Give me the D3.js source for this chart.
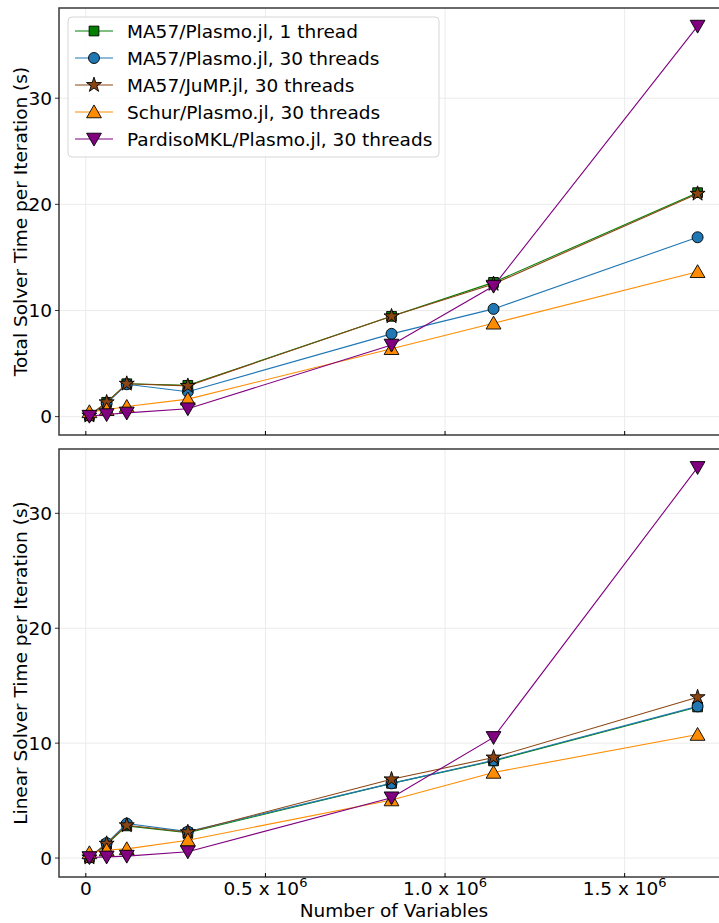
<!DOCTYPE html>
<html><head><meta charset="utf-8">
<script src="https://cdn.jsdelivr.net/npm/d3@7"></script>
<style>body{margin:0;background:#fff}svg{display:block}</style>
</head><body>
<script>
// ---- data ----
const numVariables = [10000, 58000, 114000, 284000, 851000, 1135000, 1703000];
const seriesNames = ["MA57/Plasmo.jl, 1 thread","MA57/Plasmo.jl, 30 threads","MA57/JuMP.jl, 30 threads","Schur/Plasmo.jl, 30 threads","PardisoMKL/Plasmo.jl, 30 threads"];
const totalMA57_1   = [0.1, 1.35, 3.1, 2.95, 9.45, 12.65, 21.1];
const totalMA57_30  = [0.1, 1.25, 3.05, 2.35, 7.8, 10.15, 16.9];
const totalJuMP_30  = [0.1, 1.35, 3.1, 2.9, 9.45, 12.5, 21.0];
const totalSchur_30 = [0.45, 0.65, 0.95, 1.65, 6.4, 8.8, 13.65];
const totalPardiso  = [0.05, 0.2, 0.35, 0.75, 6.75, 12.3, 36.8];
const linMA57_1   = [0.05, 1.2, 2.8, 2.2, 6.5, 8.45, 13.15];
const linMA57_30  = [0.05, 1.3, 3.0, 2.3, 6.5, 8.5, 13.2];
const linJuMP_30  = [0.05, 1.25, 2.85, 2.25, 6.85, 8.75, 14.0];
const linSchur_30 = [0.45, 0.7, 0.8, 1.55, 5.05, 7.45, 10.75];
const linPardiso  = [0.05, 0.1, 0.17, 0.55, 5.25, 10.5, 34.0];
const yTicks = [0, 10, 20, 30];
const xTicks = [0, 500000, 1000000, 1500000];
const xTickLabels = ["0", "0.5 x 10^6", "1.0 x 10^6", "1.5 x 10^6"];

const colors = ["#008000", "#1f77b4", "#8b4513", "#ff8c00", "#800080"];
const symbols = [d3.symbolSquare, d3.symbolCircle, d3.symbolStar, d3.symbolTriangle, d3.symbolTriangle];
const symSizes = [95, 95, 70, 95, 95];
const symRot = [0, 0, 0, 0, 180];
const symDy = [0, 0, 0, 1.5, -1.5];

const W = 719, H = 923;
const FS = 18.5;
const svg = d3.select("body").append("svg").attr("width", W).attr("height", H)
  .style("font-family", "DejaVu Sans, sans-serif");

const left = 59, right = 728;
const x = d3.scaleLinear().domain([-74650, 1787650]).range([left, right]);

function panel(top, bottom, yDomain, data, ylabel, showX, showLegend) {
  const y = d3.scaleLinear().domain(yDomain).range([bottom, top]);
  const g = svg.append("g");
  // grid
  g.selectAll(".gx").data(xTicks).join("line")
    .attr("x1", d => x(d)).attr("x2", d => x(d)).attr("y1", top).attr("y2", bottom)
    .attr("stroke", "#ebebeb").attr("stroke-width", 1);
  g.selectAll(".gy").data(yTicks).join("line")
    .attr("x1", left).attr("x2", right).attr("y1", d => y(d)).attr("y2", d => y(d))
    .attr("stroke", "#ebebeb").attr("stroke-width", 1);
  // lines & markers
  data.forEach((vals, i) => {
    const pts = numVariables.map((v, j) => [v, vals[j]]);
    g.append("path").datum(pts)
      .attr("d", d3.line().x(d => x(d[0])).y(d => y(d[1])))
      .attr("fill", "none").attr("stroke", colors[i]).attr("stroke-width", 1.1);
    g.selectAll(null).data(pts).join("path")
      .attr("d", d3.symbol().type(symbols[i]).size(symSizes[i]))
      .attr("transform", d => `translate(${x(d[0])},${y(d[1]) + symDy[i]}) rotate(${symRot[i]})`)
      .attr("fill", colors[i]).attr("stroke", "#000").attr("stroke-width", 0.9);
  });
  // frame
  g.append("rect").attr("x", left).attr("y", top).attr("width", right - left).attr("height", bottom - top)
    .attr("fill", "none").attr("stroke", "#3a3a3a").attr("stroke-width", 1.5);
  // ticks
  g.selectAll(".tx").data(xTicks).join("line")
    .attr("x1", d => x(d)).attr("x2", d => x(d)).attr("y1", bottom).attr("y2", bottom - 4)
    .attr("stroke", "#000").attr("stroke-width", 1);
  g.selectAll(".ty").data(yTicks).join("line")
    .attr("x1", left - 4).attr("x2", left).attr("y1", d => y(d)).attr("y2", d => y(d))
    .attr("stroke", "#000").attr("stroke-width", 0.8);
  g.selectAll(".tyl").data(yTicks).join("text")
    .attr("x", left - 7).attr("y", d => y(d)).attr("dy", "0.36em")
    .attr("text-anchor", "end").attr("font-size", FS).text(d => d);
  g.append("text").attr("transform", `translate(27,${(top + bottom) / 2}) rotate(-90)`)
    .attr("text-anchor", "middle").attr("font-size", FS).text(ylabel);
  if (showX) {
    xTicks.forEach((t, k) => {
      const lab = xTickLabels[k];
      const tx = g.append("text").attr("x", x(t)).attr("y", bottom + 18).attr("text-anchor", "middle").attr("font-size", FS);
      if (lab.includes("^")) {
        const [base, exp] = lab.split("^");
        tx.append("tspan").text(base);
        tx.append("tspan").attr("dy", -8).attr("font-size", 13).text(exp);
      } else tx.text(lab);
    });
    g.append("text").attr("x", 394).attr("y", bottom + 40).attr("text-anchor", "middle")
      .attr("font-size", FS).text("Number of Variables");
  }
  if (showLegend) {
    const lg = g.append("g");
    lg.append("rect").attr("x", 68).attr("y", 17).attr("width", 371).attr("height", 140).attr("rx", 4)
      .attr("fill", "#fff").attr("fill-opacity", 0.85).attr("stroke", "#d6d6d6").attr("stroke-width", 1);
    seriesNames.forEach((nm, i) => {
      const yy = 31 + i * 27;
      lg.append("line").attr("x1", 75).attr("x2", 113).attr("y1", yy).attr("y2", yy)
        .attr("stroke", colors[i]).attr("stroke-width", 1.1);
      lg.append("path").attr("d", d3.symbol().type(symbols[i]).size(symSizes[i]))
        .attr("transform", `translate(94,${yy + symDy[i]}) rotate(${symRot[i]})`)
        .attr("fill", colors[i]).attr("stroke", "#000").attr("stroke-width", 0.9);
      lg.append("text").attr("x", 127).attr("y", yy).attr("dy", "0.36em").attr("font-size", FS).text(nm);
    });
  }
}

panel(8, 435, [-1.73, 38.5], [totalMA57_1, totalMA57_30, totalJuMP_30, totalSchur_30, totalPardiso],
  "Total Solver Time per Iteration (s)", false, true);
panel(449, 877, [-1.65, 35.6], [linMA57_1, linMA57_30, linJuMP_30, linSchur_30, linPardiso],
  "Linear Solver Time per Iteration (s)", true, false);
</script>
</body></html>
